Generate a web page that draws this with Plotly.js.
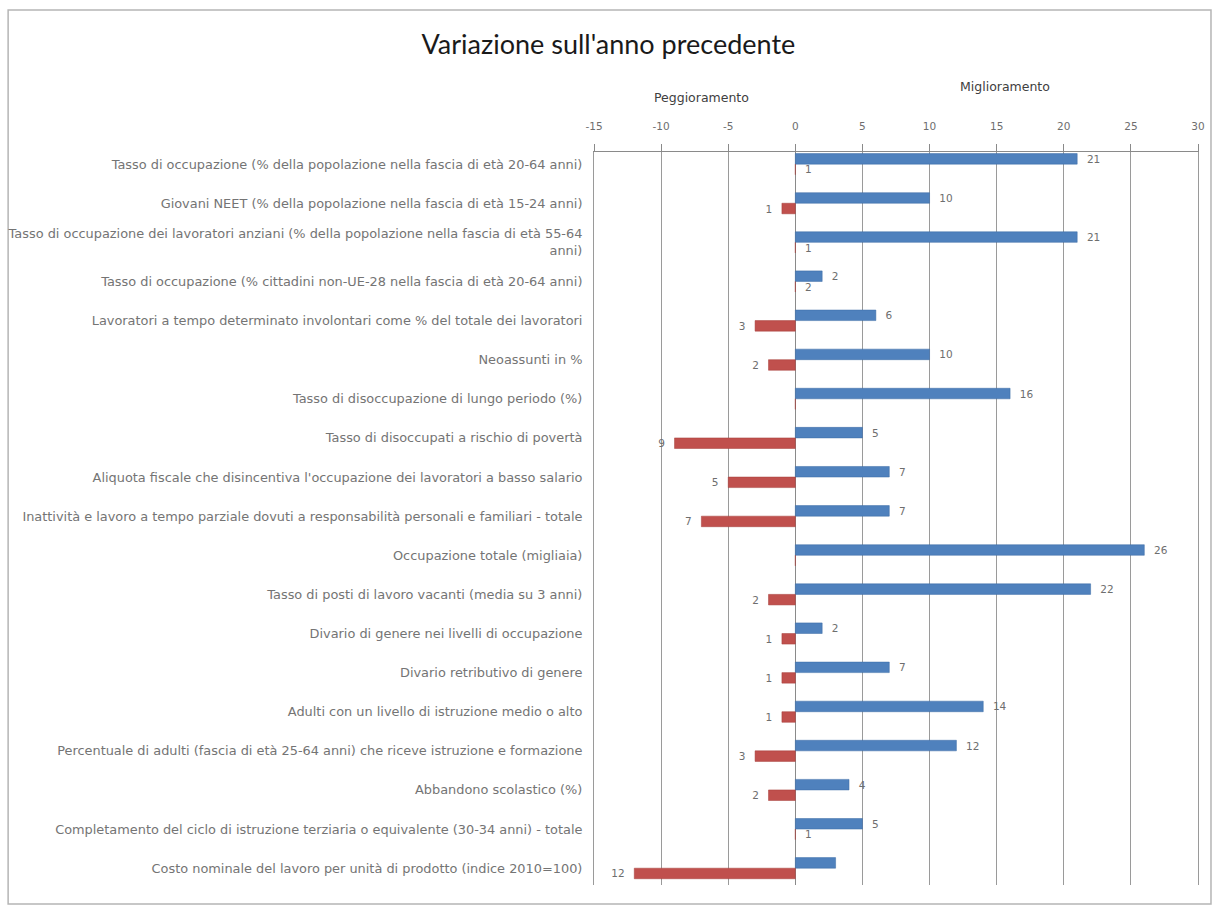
<!DOCTYPE html>
<html>
<head>
<meta charset="utf-8">
<script src="https://cdn.plot.ly/plotly-3.0.1.min.js"></script>
<style>html,body{margin:0;padding:0;background:#fff;}#chart{width:1212px;height:905px;}</style>
</head>
<body>
<div id="chart"></div>
<script>
const categories = [
  "Tasso di occupazione (% della popolazione nella fascia di età 20-64 anni)",
  "Giovani NEET (% della popolazione nella fascia di età 15-24 anni)",
  "Tasso di occupazione dei lavoratori anziani (% della popolazione nella fascia di età 55-64<br>anni)",
  "Tasso di occupazione (% cittadini non-UE-28 nella fascia di età 20-64 anni)",
  "Lavoratori a tempo determinato involontari come % del totale dei lavoratori",
  "Neoassunti in %",
  "Tasso di disoccupazione di lungo periodo (%)",
  "Tasso di disoccupati a rischio di povertà",
  "Aliquota fiscale che disincentiva l'occupazione dei lavoratori a basso salario",
  "Inattività e lavoro a tempo parziale dovuti a responsabilità personali e familiari - totale",
  "Occupazione totale (migliaia)",
  "Tasso di posti di lavoro vacanti (media su 3 anni)",
  "Divario di genere nei livelli di occupazione",
  "Divario retributivo di genere",
  "Adulti con un livello di istruzione medio o alto",
  "Percentuale di adulti (fascia di età 25-64 anni) che riceve istruzione e formazione",
  "Abbandono scolastico (%)",
  "Completamento del ciclo di istruzione terziaria o equivalente (30-34 anni) - totale",
  "Costo nominale del lavoro per unità di prodotto (indice 2010=100)"
];
const miglioramento = [21, 10, 21, 2, 6, 10, 16, 5, 7, 7, 26, 22, 2, 7, 14, 12, 4, 5, 3];
const miglioramentoLabels = ["21","10","21","2","6","10","16","5","7","7","26","22","2","7","14","12","4","5",""];
const peggioramento = [0, -1, 0, 0, -3, -2, 0, -9, -5, -7, 0, -2, -1, -1, -1, -3, -2, 0, -12];
const peggioramentoLabels = ["1","1","1","2","3","2","","9","5","7","","2","1","1","1","3","2","1","12"];
const xTicks = [-15, -10, -5, 0, 5, 10, 15, 20, 25, 30];

const labelFont = {family: "DejaVu Sans, Open Sans, sans-serif", size: 10.5, color: "#6e6e6e"};
const NB = "\u00a0\u00a0";

const traces = [
  {
    type: "bar", orientation: "h", name: "Miglioramento",
    y: categories, x: miglioramento,
    text: miglioramentoLabels, texttemplate: NB + "%{text}",
    textposition: "outside", cliponaxis: false,
    constraintext: "none", textfont: labelFont,
    marker: {color: "#4F81BD", line: {color: "#3A6BA5", width: 0.5}},
    hoverinfo: "x+y"
  },
  {
    type: "bar", orientation: "h", name: "Peggioramento",
    y: categories, x: peggioramento,
    text: peggioramentoLabels,
    texttemplate: peggioramento.map(v => v < 0 ? "%{text}" + NB : NB + "%{text}"),
    textposition: "outside", cliponaxis: false,
    constraintext: "none", textfont: labelFont,
    marker: {color: "#C0504D", line: {color: "#A53E3B", width: 0.5}},
    hoverinfo: "x+y"
  }
];

const layout = {
  width: 1212, height: 905,
  margin: {l: 594, r: 14, t: 152, b: 20},
  paper_bgcolor: "#ffffff", plot_bgcolor: "#ffffff",
  showlegend: false,
  barmode: "group",
  bargap: 0.46, bargroupgap: 0,
  font: {family: "DejaVu Sans, Open Sans, sans-serif", color: "#595959"},
  title: {
    text: "Variazione sull'anno precedente",
    font: {family: "Lato, 'Open Sans', sans-serif", size: 27, color: "#1a1a1a"},
    x: 0.502, xref: "container", xanchor: "center",
    y: 0.951, yref: "container", yanchor: "middle"
  },
  xaxis: {
    side: "top", range: [-15, 30], tickvals: xTicks, ticktext: xTicks.map(String),
    showgrid: true, gridcolor: "#9a9a9a", gridwidth: 1,
    zeroline: true, zerolinecolor: "#8a8a8a", zerolinewidth: 1,
    showline: true, linecolor: "#8a8a8a", linewidth: 1,
    ticks: "outside", ticklen: 7, tickcolor: "#8a8a8a", ticklabelstandoff: 10,
    tickfont: {family: "DejaVu Sans, Open Sans, sans-serif", size: 10.5, color: "#6e6e6e"},
    fixedrange: true
  },
  yaxis: {
    type: "category", autorange: false, range: [18.43, -0.31],
    showgrid: false, zeroline: false,
    showline: true, mirror: true, linecolor: "#9a9a9a", linewidth: 1,
    ticks: "", ticklabelstandoff: 8,
    tickfont: {family: "DejaVu Sans, Open Sans, sans-serif", size: 12.9, color: "#747474"},
    fixedrange: true
  },
  annotations: [
    {text: "Peggioramento", xref: "x", yref: "paper", x: -7.0, y: 1.075, showarrow: false,
     xanchor: "center", yanchor: "middle", font: {family: "DejaVu Sans, Open Sans, sans-serif", size: 12.5, color: "#404040"}},
    {text: "Miglioramento", xref: "x", yref: "paper", x: 15.6, y: 1.089, showarrow: false,
     xanchor: "center", yanchor: "middle", font: {family: "DejaVu Sans, Open Sans, sans-serif", size: 12.5, color: "#404040"}}
  ],
  shapes: [
    {type: "rect", xref: "paper", yref: "paper", x0: -0.970, x1: 1.0215, y0: -0.0259, y1: 1.1937,
     line: {color: "#b5b5b5", width: 1.5}, fillcolor: "rgba(0,0,0,0)", layer: "below"}
  ]
};

Plotly.newPlot("chart", traces, layout, {displayModeBar: false, staticPlot: true});
</script>
</body>
</html>
